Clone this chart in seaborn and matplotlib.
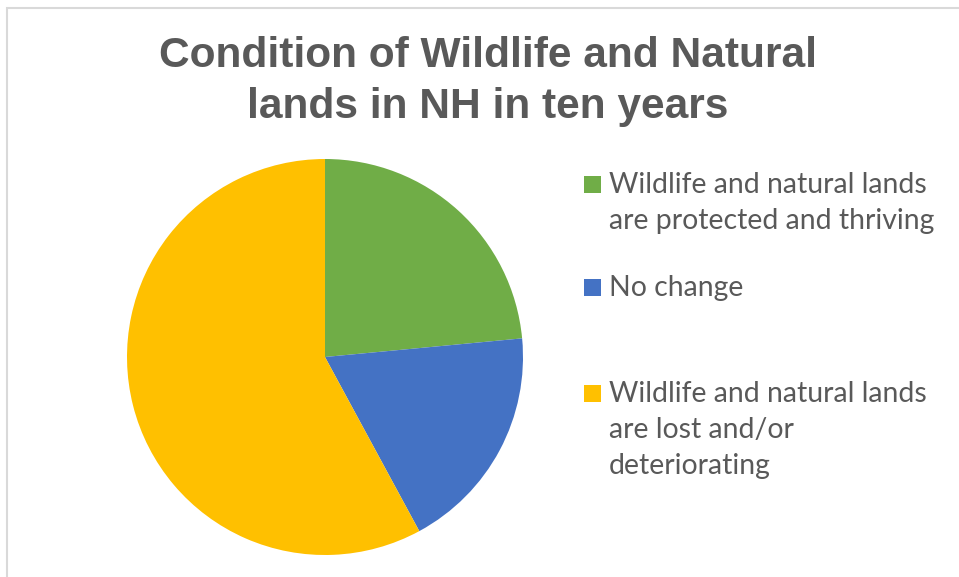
import numpy as np
import seaborn as sns
import matplotlib.pyplot as plt
from matplotlib.patches import Rectangle

# --- Datos ---
labels = ["Wildlife and natural lands\nare protected and thriving",
          "No change",
          "Wildlife and natural lands\nare lost and/or\ndeteriorating"]
shares = [23.5, 18.6, 57.9]
colors = ["#70AD47", "#4472C4", "#FFC000"]
title_lines = ["Condition of Wildlife and Natural", "lands in NH in ten years"]

sns.set_style("white")
plt.rcParams['font.family'] = ['Liberation Sans', 'DejaVu Sans']

W, H = 959, 577
fig = plt.figure(figsize=(W / 100, H / 100), dpi=100)

# marco gris del gráfico
fig.patches.append(Rectangle((7 / W, -0.1), 1.2, (H - 8) / H + 0.1, transform=fig.transFigure,
                             fill=False, edgecolor="#D9D9D9", linewidth=1.5))

# --- Pie ---
cx, cy, r = 325, 357, 198
ax = fig.add_axes([(cx - r) / W, (H - cy - r) / H, 2 * r / W, 2 * r / H])
ax.pie(shares, colors=colors, startangle=90, counterclock=False,
       wedgeprops=dict(linewidth=0))
ax.set_xlim(-1, 1)
ax.set_ylim(-1, 1)
ax.set_aspect('equal')
ax.axis('off')

# --- Título (líneas por separado, alineadas a la línea base) ---
for i, line in enumerate(title_lines):
    fig.text(488 / W, 1 - (67 + 51 * i) / H, line, ha='center', va='baseline',
             fontsize=30.6, fontweight='bold', color="#595959")

# --- Leyenda ---
first_baselines = [193, 296, 402]
line_step = 36
for lab, col, yb in zip(labels, colors, first_baselines):
    fig.patches.append(Rectangle((584 / W, 1 - yb / H), 17 / W, 17 / H,
                                 transform=fig.transFigure, facecolor=col, edgecolor='none'))
    for j, line in enumerate(lab.split("\n")):
        fig.text(609 / W, 1 - (yb + line_step * j) / H, line, ha='left', va='baseline',
                 fontsize=20.4, family=['Lato', 'DejaVu Sans'], color="#595959")

plt.savefig("out.png", dpi=100)
plt.close()
